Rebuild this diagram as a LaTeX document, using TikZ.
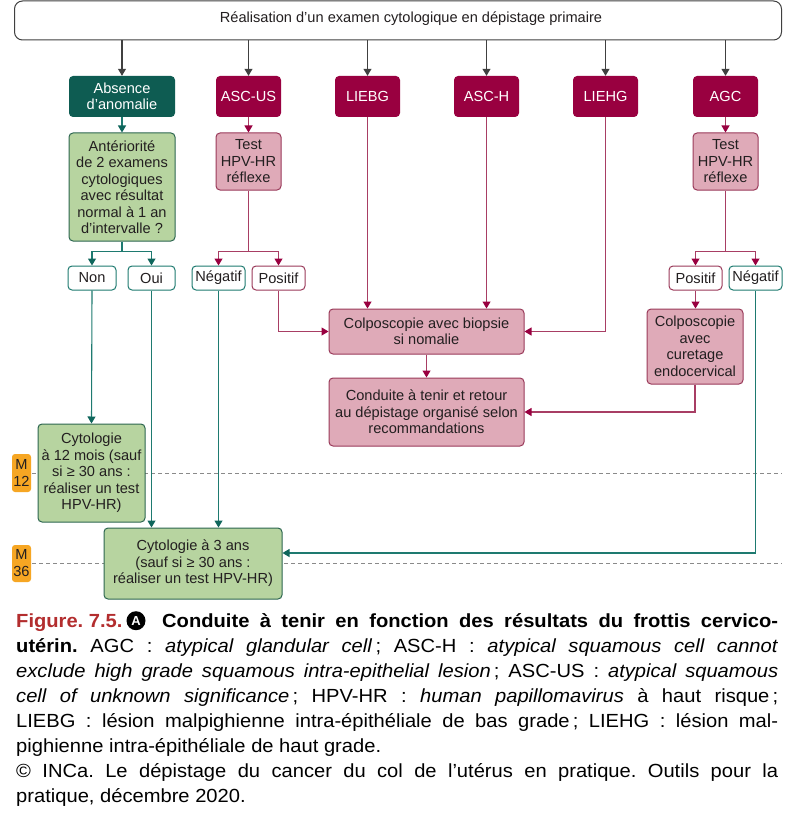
\documentclass[tikz,border=0pt]{standalone}
\usepackage{fontspec}
\setmainfont{Liberation Sans}
\newfontfamily\capfont[FakeStretch=1.06]{Liberation Sans}
\usetikzlibrary{arrows.meta,calc}
\definecolor{cdkgreen}{HTML}{0E5C52}
\definecolor{cmaroon}{HTML}{990040}
\definecolor{cmline}{HTML}{A83E64}
\definecolor{cpinkfill}{HTML}{DFAAB8}
\definecolor{cpinkborder}{HTML}{9A3A5A}
\definecolor{cgreenfill}{HTML}{B7D4A0}
\definecolor{cgreenborder}{HTML}{2D6650}
\definecolor{cteal}{HTML}{1E7A70}
\definecolor{ctealtip}{HTML}{0F665C}
\definecolor{cgrayln}{HTML}{404040}
\definecolor{cdash}{HTML}{8A8A8A}
\definecolor{corange}{HTML}{F6A623}
\definecolor{ctext}{HTML}{231F20}
\definecolor{cfigred}{HTML}{B32D2E}
\frenchspacing
\begin{document}
\begin{tikzpicture}[x=1pt,y=-1pt,
  every node/.style={font=\fontsize{14.6}{16.5}\selectfont, inner sep=0pt, align=center, text=ctext},
  topbox/.style={draw=cgrayln, line width=1pt, rounded corners=8pt, fill=white},
  catbox/.style={fill=cmaroon, text=white, rounded corners=4pt, minimum width=65pt, minimum height=41pt},
  catgreen/.style={fill=cdkgreen, text=white, rounded corners=4pt, minimum width=106pt, minimum height=41pt},
  pinkbox/.style={draw=cpinkborder, fill=cpinkfill, line width=1pt, rounded corners=4pt},
  greenbox/.style={draw=cgreenborder, fill=cgreenfill, line width=1pt, rounded corners=4pt},
  ansteal/.style={draw=cteal, fill=white, line width=1pt, rounded corners=4pt, minimum height=24pt},
  ansmar/.style={draw=cpinkborder, fill=white, line width=1pt, rounded corners=4pt, minimum height=24pt},
  mbox/.style={fill=corange, rounded corners=3pt, minimum width=19pt, font=\fontsize{14.6}{17}\selectfont},
  garrow/.style={draw=cgrayln, line width=1.1pt, -{Triangle[width=8pt,length=7pt,color=cgrayln]}},
  tline/.style={draw=cteal, line width=1.1pt},
  tarrow/.style={draw=cteal, line width=1.1pt, -{Triangle[width=8pt,length=7pt,color=ctealtip]}},
  mline/.style={draw=cmline, line width=1.1pt},
  marrow/.style={draw=cmline, line width=1.1pt, -{Triangle[width=8pt,length=7pt,color=cmaroon]}},
  dashln/.style={draw=cdash, line width=0.8pt, dash pattern=on 4pt off 3pt},
  capline/.style={font=\capfont\fontsize{19}{25}\selectfont, text=black, anchor=base west}
]
\useasboundingbox (0,0) rectangle (794,821);
\fill[white] (0,0) rectangle (794,821);

% dashed time lines
\coordinate (d12a) at (32,473); \coordinate (d12b) at (782,473);
\coordinate (d36a) at (32,563); \coordinate (d36b) at (782,563);
\draw[dashln] (d12a) -- (d12b);
\draw[dashln] (d36a) -- (d36b);

% top box
\node[topbox, minimum width=767pt, minimum height=39pt] (top) at (398,20.5) {};
\node (toplabel) at (411,19) {Réalisation d’un examen cytologique en dépistage primaire};

% categories
\node[catgreen] (absence) at (122,96.5) {Absence\\d’anomalie};
\node[catbox] (ascus) at (248.5,96.5) {ASC-US};
\node[catbox] (liebg) at (367.5,96.5) {LIEBG};
\node[catbox] (asch) at (486.5,96.5) {ASC-H};
\node[catbox] (liehg) at (605.5,96.5) {LIEHG};
\node[catbox] (agc) at (725.5,96.5) {AGC};

% second row
\node[greenbox, minimum width=106pt, minimum height=108pt] (anter) at (122,187) {Antériorité\\de 2 examens\\cytologiques\\avec résultat\\normal à 1 an\\d’intervalle ?};
\node[pinkbox, minimum width=65pt, minimum height=57pt] (testA) at (248.5,161.5) {Test\\HPV-HR\\réflexe};
\node[pinkbox, minimum width=65pt, minimum height=57pt] (testB) at (725.5,161.5) {Test\\HPV-HR\\réflexe};

% answers
\node[ansteal, minimum width=48pt] (non) at (92,278) {Non};
\node[ansteal, minimum width=47pt] (oui) at (151.5,278) {Oui};
\node[ansteal, minimum width=53pt] (negA) at (218.5,278) {Négatif};
\node[ansmar, minimum width=53pt] (posA) at (278.5,278) {Positif};
\node[ansmar, minimum width=53pt] (posB) at (695.5,278) {Positif};
\node[ansteal, minimum width=53pt] (negB) at (755.5,278) {Négatif};

% actions
\node[pinkbox, minimum width=195pt, minimum height=45pt] (colpo) at (426.5,331.5) {Colposcopie avec biopsie\\si nomalie};
\node[pinkbox, minimum width=195pt, minimum height=68pt] (conduite) at (426.5,412) {Conduite à tenir et retour\\au dépistage organisé selon\\recommandations};
\node[pinkbox, minimum width=96pt, minimum height=75pt] (cur) at (695,346.5) {Colposcopie\\avec\\curetage\\endocervical};
\node[greenbox, minimum width=107pt, minimum height=98pt] (cyto12) at (91.5,473) {Cytologie\\à 12 mois (sauf\\si ≥ 30 ans :\\réaliser un test\\HPV-HR)};
\node[greenbox, minimum width=178pt, minimum height=71pt] (cyto3) at (193,563.5) {Cytologie à 3 ans\\(sauf si ≥ 30 ans :\\réaliser un test HPV-HR)};

% month markers
\node[mbox, minimum height=38pt] (m12) at (21.5,473) {M\\12};
\node[mbox, minimum height=37pt] (m36) at (21.5,563.5) {M\\36};

% connectors from top
\foreach \n in {absence,ascus,liebg,asch,liehg,agc}
  \draw[garrow] (top.south -| \n.north) -- (\n.north);

% green branch
\draw[tarrow] (absence.south) -- (anter.north);
\draw[tline] (anter.south) -- ++(0,10) coordinate (brL);
\draw[tarrow] (brL) -| (non.north);
\draw[tarrow] (brL) -| (oui.north);
\draw[tarrow] (non.south) -- (cyto12.north);
\draw[tarrow] (oui.south) -- (oui.south |- cyto3.north);
\draw[tarrow] (negA.south) -- (negA.south |- cyto3.north);

% ASC-US branch
\draw[marrow] (ascus.south) -- (testA.north);
\draw[mline] (testA.south) -- ++(0,61) coordinate (brA);
\draw[marrow] (brA) -| (negA.north);
\draw[marrow] (brA) -| (posA.north);
\draw[marrow] (posA.south) |- (colpo.west);

% LIEBG, ASC-H, LIEHG
\draw[marrow] (liebg.south) -- (liebg.south |- colpo.north);
\draw[marrow] (asch.south) -- (asch.south |- colpo.north);
\draw[marrow] (liehg.south) |- (colpo.east);
\draw[marrow] (colpo.south) -- (conduite.north);

% AGC branch
\draw[marrow] (agc.south) -- (testB.north);
\draw[mline] (testB.south) -- ++(0,61) coordinate (brB);
\draw[marrow] (brB) -| (posB.north);
\draw[marrow] (brB) -| (negB.north);
\draw[marrow] (posB.south) -- (posB.south |- cur.north);
\draw[marrow] (cur.south) |- (conduite.east);
\draw[tarrow] (negB.south) |- ($(cyto3.east)+(0,-10.5)$);

% caption
\node[capline] (cap1a) at (16,627.8) {\color{cfigred}\bfseries Figure. 7.5.};
\node[circle, fill=black, minimum size=19pt, text=white, font=\fontsize{13}{13}\selectfont\bfseries] (circA) at (136,620.7) {A};
\node[capline] (cap1b) at (162,627.8) {\makebox[616pt][s]{\bfseries Conduite à tenir en fonction des résultats du frottis cervico-}};
\node[capline] (cap2) at (16,652.75) {\makebox[762pt][s]{\bfseries utérin.\mdseries{} AGC : \textit{atypical glandular cell}\,; ASC-H : \textit{atypical squamous cell cannot}}};
\node[capline] (cap3) at (16,677.7) {\makebox[762pt][s]{\textit{exclude high grade squamous intra-epithelial lesion}\,; ASC-US : \textit{atypical squamous}}};
\node[capline] (cap4) at (16,702.65) {\makebox[762pt][s]{\textit{cell of unknown significance}\,; HPV-HR : \textit{human papillomavirus} à haut risque\,;}};
\node[capline] (cap5) at (16,727.6) {\makebox[762pt][s]{LIEBG : lésion malpighienne intra-épithéliale de bas grade\,; LIEHG : lésion mal-}};
\node[capline] (cap6) at (16,752.55) {pighienne intra-épithéliale de haut grade.};
\node[capline] (cap7) at (16,777.5) {\makebox[762pt][s]{© INCa. Le dépistage du cancer du col de l’utérus en pratique. Outils pour la}};
\node[capline] (cap8) at (16,802.45) {pratique, décembre 2020.};
\end{tikzpicture}
\end{document}
